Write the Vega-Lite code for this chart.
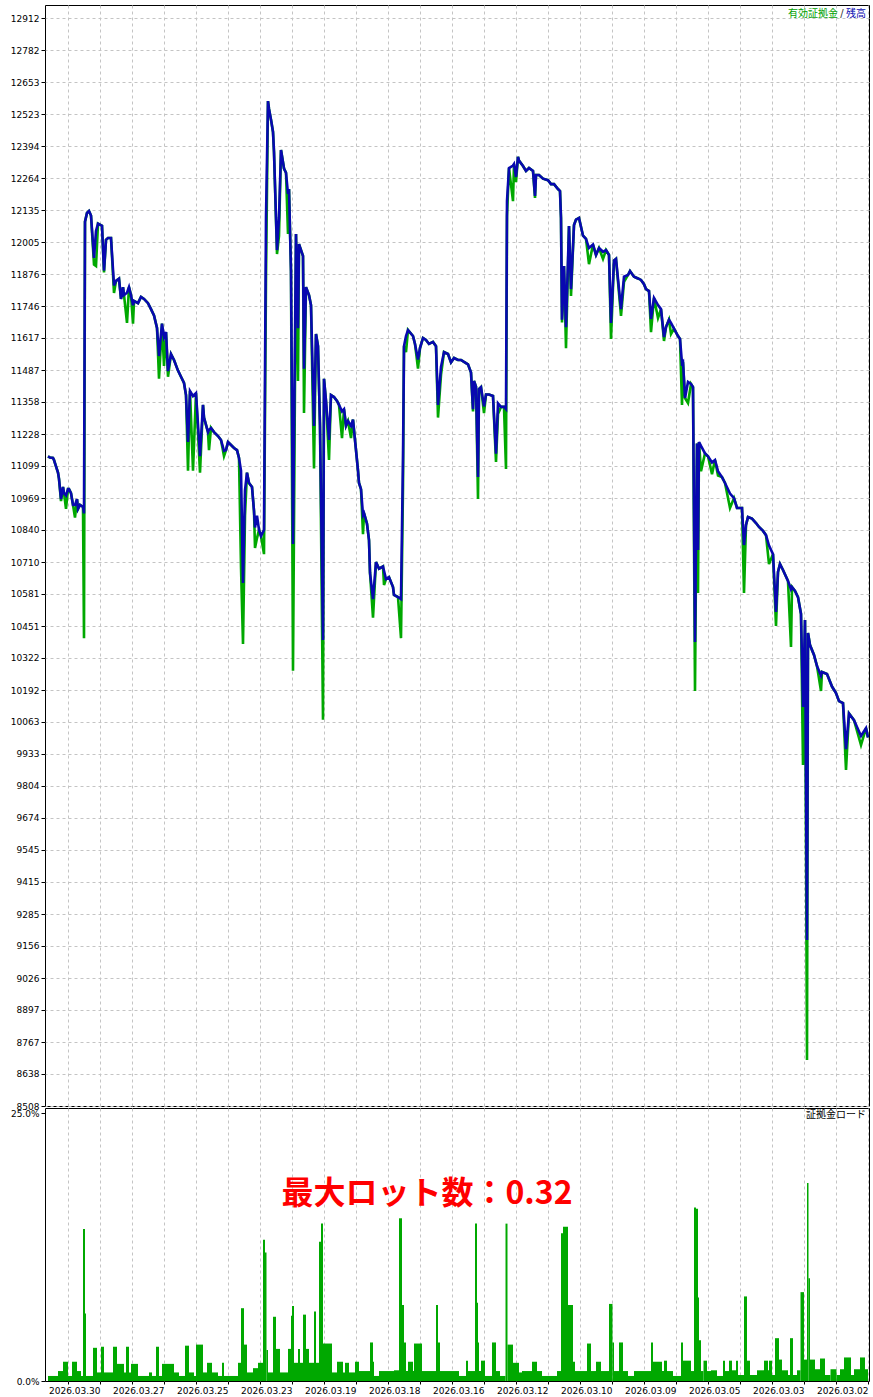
{
"$schema": "https://vega.github.io/schema/vega-lite/v6.json",
"padding": {"left": 4, "top": 4, "right": 5, "bottom": 0},
"background": "white",
"spacing": 2,
"bounds": "flush",
"config": {"view": {"stroke": "black", "strokeWidth": 1}, "font": "DejaVu Sans", "axis": {"labelFont": "DejaVu Sans", "labelColor": "black", "labelFontSize": 9, "title": null}},
"datasets": {
"eq": [
{"i":0,"b":10000,"e":10000},{"i":2,"b":10038,"e":10038},{"i":7,"b":10006,"e":9969},{"i":14,"b":10070,"e":10070},{"i":19,"b":10097,"e":10097},{"i":22,"b":9953,"e":9868},{"i":25,"b":10139,"e":10139},{"i":29,"b":10147,"e":10147},{"i":32,"b":10180,"e":10180},{"i":36,"b":10206,"e":10206},{"i":41,"b":10257,"e":10257},{"i":46,"b":10265,"e":10265},{"i":47,"b":10250,"e":10188},{"i":51,"b":10289,"e":10289},{"i":54,"b":10334,"e":10334},{"i":58,"b":10374,"e":10374},{"i":60,"b":10423,"e":10423},{"i":61,"b":9180,"e":8694},{"i":63,"b":10475,"e":10475},{"i":65,"b":10123,"e":9888},{"i":67,"b":10500,"e":10500},{"i":70,"b":10568,"e":10568},{"i":73,"b":10593,"e":10593},{"i":76,"b":10609,"e":10609},{"i":77,"b":10600,"e":10366},{"i":80,"b":10633,"e":10633},{"i":85,"b":10678,"e":10678},{"i":88,"b":10702,"e":10702},{"i":90,"b":10670,"e":10670},{"i":92,"b":10508,"e":10451},{"i":95,"b":10742,"e":10742},{"i":99,"b":10777,"e":10702},{"i":102,"b":10819,"e":10819},{"i":105,"b":10836,"e":10836},{"i":109,"b":10852,"e":10852},{"i":112,"b":10868,"e":10868},{"i":116,"b":10886,"e":10886},{"i":120,"b":10892,"e":10892},{"i":122,"b":10860,"e":10860},{"i":124,"b":10779,"e":10585},{"i":126,"b":10929,"e":10929},{"i":131,"b":10929,"e":10929},{"i":134,"b":10969,"e":10969},{"i":138,"b":10987,"e":10929},{"i":143,"b":11030,"e":11030},{"i":146,"b":11054,"e":11054},{"i":150,"b":11078,"e":11060},{"i":153,"b":11123,"e":11123},{"i":156,"b":11113,"e":11066},{"i":160,"b":11138,"e":11138},{"i":163,"b":11150,"e":11150},{"i":167,"b":11180,"e":11078},{"i":169,"b":11196,"e":11196},{"i":170,"b":10759,"e":10585},{"i":171,"b":11190,"e":11190},{"i":173,"b":10386,"e":10188},{"i":175,"b":11418,"e":11418},{"i":177,"b":11431,"e":11431},{"i":180,"b":11439,"e":11354},{"i":183,"b":11374,"e":11374},{"i":185,"b":11520,"e":11520},{"i":186,"b":11515,"e":11346},{"i":188,"b":11613,"e":11613},{"i":190,"b":11625,"e":11625},{"i":194,"b":11655,"e":11655},{"i":197,"b":11678,"e":11633},{"i":199,"b":11691,"e":11691},{"i":202,"b":11661,"e":11661},{"i":204,"b":11621,"e":11605},{"i":207,"b":11734,"e":11734},{"i":210,"b":11750,"e":11698},{"i":214,"b":11779,"e":11779},{"i":217,"b":11694,"e":11641},{"i":219,"b":11807,"e":11807},{"i":222,"b":11815,"e":11815},{"i":224,"b":11835,"e":11835},{"i":227,"b":11852,"e":11852},{"i":230,"b":11858,"e":11858},{"i":234,"b":11865,"e":11865},{"i":238,"b":11888,"e":11888},{"i":240,"b":11872,"e":11872},{"i":244,"b":11865,"e":11844},{"i":247,"b":11734,"e":11706},{"i":252,"b":11937,"e":11937},{"i":254,"b":11930,"e":11930},{"i":257,"b":11678,"e":11613},{"i":259,"b":11953,"e":11953},{"i":262,"b":11973,"e":11973},{"i":265,"b":11966,"e":11937},{"i":269,"b":11981,"e":11981},{"i":272,"b":11953,"e":11953},{"i":275,"b":11995,"e":11995},{"i":279,"b":11981,"e":11916},{"i":282,"b":12018,"e":12018},{"i":285,"b":12031,"e":12031},{"i":289,"b":12103,"e":12103},{"i":292,"b":12096,"e":12096},{"i":294,"b":12074,"e":12074},{"i":297,"b":11815,"e":11787},{"i":299,"b":12070,"e":12070},{"i":302,"b":11661,"e":11576},{"i":304,"b":11908,"e":11908},{"i":306,"b":11691,"e":11680},{"i":307,"b":12103,"e":12103},{"i":308,"b":12212,"e":12212},{"i":310,"b":12220,"e":12220},{"i":314,"b":12240,"e":12240},{"i":317,"b":12240,"e":12240},{"i":320,"b":12256,"e":12256},{"i":325,"b":12262,"e":12262},{"i":329,"b":12277,"e":12277},{"i":332,"b":12277,"e":12277},{"i":333,"b":12192,"e":12184},{"i":335,"b":12293,"e":12293},{"i":339,"b":12305,"e":12305},{"i":342,"b":12293,"e":12293},{"i":345,"b":12313,"e":12313},{"i":349,"b":12335,"e":12335},{"i":350,"b":12350,"e":12350},{"i":352,"b":12269,"e":12248},{"i":354,"b":12321,"e":12321},{"i":355,"b":12315,"e":12171},{"i":359,"b":12305,"e":12305},{"i":361,"b":12171,"e":12111},{"i":362,"b":11329,"e":11087},{"i":364,"b":11338,"e":11338},{"i":367,"b":11338,"e":11338},{"i":370,"b":11352,"e":11309},{"i":372,"b":11149,"e":11115},{"i":375,"b":11382,"e":11382},{"i":379,"b":11388,"e":11388},{"i":382,"b":11388,"e":11388},{"i":384,"b":11340,"e":11313},{"i":387,"b":11418,"e":11418},{"i":389,"b":11410,"e":11410},{"i":390,"b":11054,"e":10965},{"i":392,"b":11420,"e":11420},{"i":394,"b":11443,"e":11443},{"i":395,"b":11329,"e":11320},{"i":397,"b":11477,"e":11477},{"i":400,"b":11510,"e":11510},{"i":404,"b":11520,"e":11520},{"i":407,"b":11528,"e":11528},{"i":410,"b":11528,"e":11528},{"i":414,"b":11536,"e":11536},{"i":417,"b":11518,"e":11518},{"i":420,"b":11552,"e":11552},{"i":424,"b":11560,"e":11560},{"i":427,"b":11500,"e":11468},{"i":430,"b":11346,"e":11295},{"i":432,"b":11584,"e":11584},{"i":435,"b":11601,"e":11601},{"i":439,"b":11593,"e":11593},{"i":442,"b":11609,"e":11609},{"i":445,"b":11617,"e":11617},{"i":448,"b":11576,"e":11576},{"i":450,"b":11530,"e":11493},{"i":453,"b":11593,"e":11593},{"i":455,"b":11625,"e":11625},{"i":460,"b":11649,"e":11649},{"i":462,"b":11625,"e":11560},{"i":464,"b":11584,"e":11584},{"i":465,"b":11131,"e":11014},{"i":467,"b":10560,"e":10402},{"i":470,"b":10568,"e":10568},{"i":474,"b":10577,"e":10577},{"i":475,"b":10609,"e":10609},{"i":479,"b":10649,"e":10649},{"i":482,"b":10641,"e":10641},{"i":484,"b":10675,"e":10617},{"i":485,"b":10692,"e":10692},{"i":489,"b":10683,"e":10683},{"i":492,"b":10710,"e":10710},{"i":495,"b":10560,"e":10485},{"i":498,"b":10667,"e":10667},{"i":499,"b":10799,"e":10799},{"i":501,"b":10865,"e":10865},{"i":504,"b":10908,"e":10908},{"i":505,"b":10900,"e":10823},{"i":507,"b":11005,"e":11005},{"i":509,"b":11030,"e":11030},{"i":510,"b":11080,"e":11080},{"i":512,"b":11163,"e":11163},{"i":514,"b":11244,"e":11244},{"i":515,"b":11287,"e":11287},{"i":517,"b":11261,"e":11212},{"i":520,"b":11281,"e":11281},{"i":522,"b":11262,"e":11262},{"i":524,"b":11329,"e":11329},{"i":526,"b":11320,"e":11212},{"i":529,"b":11346,"e":11346},{"i":531,"b":11362,"e":11362},{"i":534,"b":11378,"e":11378},{"i":537,"b":11386,"e":11386},{"i":539,"b":11204,"e":11123},{"i":542,"b":11362,"e":11362},{"i":544,"b":11452,"e":11452},{"i":545,"b":10394,"e":10072},{"i":548,"b":11262,"e":11262},{"i":550,"b":11584,"e":11584},{"i":552,"b":11633,"e":11633},{"i":554,"b":11261,"e":11089},{"i":557,"b":11750,"e":11750},{"i":559,"b":11791,"e":11791},{"i":562,"b":11823,"e":11823},{"i":564,"b":11493,"e":11313},{"i":565,"b":11949,"e":11949},{"i":569,"b":11997,"e":11997},{"i":570,"b":11657,"e":11443},{"i":572,"b":12038,"e":12038},{"i":575,"b":10783,"e":10270},{"i":577,"b":11888,"e":11888},{"i":579,"b":12220,"e":12220},{"i":580,"b":12200,"e":12038},{"i":582,"b":12286,"e":12286},{"i":584,"b":12303,"e":12303},{"i":585,"b":12329,"e":12329},{"i":587,"b":12378,"e":12378},{"i":589,"b":12105,"e":12030},{"i":591,"b":11973,"e":11957},{"i":594,"b":12370,"e":12370},{"i":595,"b":12451,"e":12451},{"i":597,"b":12501,"e":12501},{"i":599,"b":12544,"e":12544},{"i":600,"b":12576,"e":12576},{"i":602,"b":12107,"e":11864},{"i":604,"b":10840,"e":10742},{"i":607,"b":10815,"e":10815},{"i":609,"b":10840,"e":10840},{"i":611,"b":10898,"e":10807},{"i":613,"b":10850,"e":10767},{"i":614,"b":10917,"e":10917},{"i":616,"b":11014,"e":11014},{"i":619,"b":11030,"e":11030},{"i":621,"b":11072,"e":11072},{"i":623,"b":11000,"e":10898},{"i":625,"b":10625,"e":10378},{"i":627,"b":11080,"e":10690},{"i":629,"b":11131,"e":11131},{"i":631,"b":11163,"e":11163},{"i":634,"b":11172,"e":11172},{"i":638,"b":11188,"e":11188},{"i":640,"b":11196,"e":11196},{"i":642,"b":11163,"e":11163},{"i":644,"b":11160,"e":11139},{"i":647,"b":11204,"e":11204},{"i":650,"b":11220,"e":11220},{"i":654,"b":11236,"e":11236},{"i":657,"b":11253,"e":11253},{"i":659,"b":11245,"e":11163},{"i":660,"b":11236,"e":11236},{"i":664,"b":11295,"e":11295},{"i":665,"b":11346,"e":11346},{"i":668,"b":11139,"e":11072},{"i":672,"b":11394,"e":11394},{"i":675,"b":11382,"e":11080},{"i":678,"b":11402,"e":11402},{"i":680,"b":11196,"e":11080},{"i":682,"b":11386,"e":11386},{"i":684,"b":11435,"e":11435},{"i":687,"b":11460,"e":11460},{"i":690,"b":11485,"e":11485},{"i":694,"b":11528,"e":11528},{"i":697,"b":11552,"e":11552},{"i":700,"b":11483,"e":11460},{"i":702,"b":11641,"e":11641},{"i":704,"b":11620,"e":11504},{"i":706,"b":11675,"e":11675},{"i":709,"b":11544,"e":11452},{"i":711,"b":11658,"e":11658},{"i":714,"b":11708,"e":11708},{"i":717,"b":11734,"e":11734},{"i":720,"b":11758,"e":11758},{"i":724,"b":11775,"e":11775},{"i":727,"b":11783,"e":11783},{"i":730,"b":11758,"e":11758},{"i":734,"b":11767,"e":11767},{"i":735,"b":11750,"e":11675},{"i":737,"b":11790,"e":11790},{"i":739,"b":11823,"e":11823},{"i":741,"b":11800,"e":11678},{"i":744,"b":11791,"e":11791},{"i":745,"b":11823,"e":11823},{"i":747,"b":11775,"e":11775},{"i":749,"b":11857,"e":11857},{"i":752,"b":11848,"e":11848},{"i":754,"b":11830,"e":11799},{"i":757,"b":12022,"e":12022},{"i":760,"b":12022,"e":12022},{"i":762,"b":12014,"e":12014},{"i":764,"b":11890,"e":11882},{"i":766,"b":12071,"e":12071},{"i":770,"b":12080,"e":12080},{"i":772,"b":12050,"e":11908},{"i":774,"b":11941,"e":11914},{"i":777,"b":12113,"e":12113},{"i":779,"b":12131,"e":12131},{"i":781,"b":12123,"e":12123},{"i":783,"b":12088,"e":12088},{"i":784,"b":10907,"e":10402},{"i":785,"b":10933,"e":10933},{"i":788,"b":10941,"e":10941},{"i":790,"b":10925,"e":10925},{"i":791,"b":10965,"e":10965},{"i":793,"b":10941,"e":10890},{"i":795,"b":10941,"e":10941},{"i":797,"b":10989,"e":10989},{"i":799,"b":11006,"e":11006},{"i":800,"b":11006,"e":11006},{"i":802,"b":10980,"e":10925},{"i":804,"b":10989,"e":10989},{"i":805,"b":11014,"e":11014},{"i":807,"b":10965,"e":10957},{"i":809,"b":11047,"e":11047},{"i":810,"b":11072,"e":11072},{"i":812,"b":11097,"e":11097},{"i":814,"b":11123,"e":11123},{"i":815,"b":11131,"e":11131},{"i":818,"b":11133,"e":11133},{"i":820,"b":11138,"e":11138}
],
"ml": [
{"a":0,"b":3,"m":1.1},{"a":3,"b":8,"m":2.2},{"a":8,"b":14,"m":1.1},{"a":14,"b":17,"m":0.56},{"a":17,"b":24,"m":2.2},{"a":24,"b":28,"m":1.1},{"a":28,"b":31.5,"m":0.56},{"a":31.5,"b":37.5,"m":1.1},{"a":37.5,"b":43,"m":0.56},{"a":43,"b":48,"m":2.1},{"a":48,"b":53,"m":1.1},{"a":53,"b":58,"m":2.0},{"a":58,"b":59.5,"m":9.6},{"a":59.5,"b":61,"m":18.5},{"a":61,"b":64,"m":2.0},{"a":64,"b":67.5,"m":8.3},{"a":67.5,"b":71,"m":1.0},{"a":71,"b":75,"m":0.56},{"a":75,"b":78,"m":4.0},{"a":78,"b":80,"m":0.56},{"a":80,"b":86,"m":1.0},{"a":86,"b":89,"m":2.0},{"a":89,"b":93,"m":4.0},{"a":93,"b":96,"m":0.56},{"a":96,"b":99,"m":1.9},{"a":99,"b":100,"m":1.0},{"a":100,"b":104,"m":1.9},{"a":104,"b":111,"m":1.0},{"a":111,"b":118,"m":0.56},{"a":118,"b":121,"m":1.9},{"a":121,"b":124,"m":7.9},{"a":124,"b":130,"m":0.56},{"a":130,"b":132,"m":1.9},{"a":132,"b":136,"m":1.0},{"a":136,"b":139,"m":1.9},{"a":139,"b":143,"m":0.93},{"a":143,"b":145,"m":1.9},{"a":145,"b":151,"m":0.47},{"a":151,"b":157,"m":1.0},{"a":157,"b":161,"m":0.93},{"a":161,"b":164.5,"m":1.9},{"a":164.5,"b":167,"m":0.93},{"a":167,"b":169,"m":3.8},{"a":169,"b":170,"m":7.8},{"a":170,"b":172,"m":16.1},{"a":172,"b":174,"m":16.2},{"a":174,"b":177,"m":0.93},{"a":177,"b":185,"m":1.9},{"a":185,"b":187,"m":3.6},{"a":187,"b":195,"m":0.47},{"a":195,"b":201,"m":0.93},{"a":201,"b":204,"m":1.9},{"a":204,"b":206,"m":0.93},{"a":206,"b":215,"m":1.8},{"a":215,"b":217,"m":3.6},{"a":217,"b":234,"m":0.93},{"a":234,"b":240,"m":0.47},{"a":240,"b":245,"m":0.93},{"a":245,"b":249,"m":3.6},{"a":249,"b":254,"m":0.93},{"a":254,"b":255.5,"m":3.6},{"a":255.5,"b":259,"m":7.2},{"a":259,"b":267,"m":0.93},{"a":267,"b":272,"m":1.8},{"a":272,"b":277,"m":0.93},{"a":277,"b":281,"m":3.5},{"a":281,"b":293,"m":0.93},{"a":293,"b":295,"m":1.8},{"a":295,"b":300,"m":7.1},{"a":300,"b":305,"m":14.4},{"a":305,"b":307,"m":13.8},{"a":307,"b":311,"m":0.93},{"a":311,"b":326,"m":0.47},{"a":326,"b":331,"m":0.93},{"a":331,"b":336,"m":1.8},{"a":336,"b":346,"m":0.93},{"a":346,"b":349,"m":0.8},{"a":349,"b":355,"m":1.7},{"a":355,"b":360.5,"m":3.4},{"a":360.5,"b":362.5,"m":14.7},{"a":362.5,"b":368,"m":0.47},{"a":368,"b":372,"m":0.93},{"a":372,"b":376,"m":3.6},{"a":376,"b":383,"m":0.47},{"a":383,"b":387,"m":1.9},{"a":387,"b":389,"m":0.93},{"a":389,"b":390,"m":3.6},{"a":390,"b":391,"m":7.3},{"a":391,"b":393,"m":14.7},{"a":393,"b":400,"m":0.93},{"a":400,"b":402,"m":1.9},{"a":402,"b":409,"m":0.47},{"a":409,"b":428,"m":0.93},{"a":428,"b":430,"m":3.6},{"a":430,"b":432,"m":7.1},{"a":432,"b":446,"m":0.93},{"a":446,"b":454,"m":3.5},{"a":454,"b":455,"m":0.93},{"a":455,"b":460,"m":1.8},{"a":460,"b":462,"m":0.93},{"a":462,"b":464,"m":3.6},{"a":464,"b":466,"m":7.1},{"a":466,"b":469,"m":15.2},{"a":469,"b":474,"m":1.0},{"a":474,"b":489,"m":0.93},{"a":489,"b":494,"m":0.47},{"a":494,"b":495,"m":1.8},{"a":495,"b":498,"m":3.6},{"a":498,"b":509,"m":0.93},{"a":509,"b":513,"m":1.8},{"a":513,"b":519,"m":0.8},{"a":519,"b":523,"m":1.7},{"a":523,"b":525,"m":0.8},{"a":525,"b":531,"m":1.8},{"a":531,"b":536,"m":0.8},{"a":536,"b":545,"m":3.5},{"a":545,"b":547,"m":14.7},{"a":547,"b":549,"m":13.0},{"a":549,"b":552,"m":1.7},{"a":552,"b":554,"m":6.5},{"a":554,"b":559,"m":1.7},{"a":559,"b":562,"m":3.0},{"a":562,"b":565,"m":6.2},{"a":565,"b":568,"m":1.7},{"a":568,"b":570,"m":3.0},{"a":570,"b":574,"m":1.7},{"a":574,"b":576,"m":7.0},{"a":576,"b":577,"m":6.1},{"a":577,"b":580,"m":3.0},{"a":580,"b":588,"m":0.8},{"a":588,"b":592,"m":3.0},{"a":592,"b":595,"m":6.0},{"a":595,"b":600,"m":0.8},{"a":600,"b":601.5,"m":2.9},{"a":601.5,"b":603,"m":12.0},{"a":603,"b":605,"m":13.2},{"a":605,"b":610,"m":1.7},{"a":610,"b":615,"m":1.2},{"a":615,"b":621,"m":0.8},{"a":621,"b":624,"m":3.4},{"a":624,"b":627,"m":6.8},{"a":627,"b":630,"m":1.7},{"a":630,"b":644,"m":0.47},{"a":644,"b":646,"m":1.7},{"a":646,"b":650,"m":0.47},{"a":650,"b":656,"m":0.8},{"a":656,"b":661,"m":1.7},{"a":661,"b":665,"m":0.8},{"a":665,"b":672,"m":3.4},{"a":672,"b":674,"m":0.47},{"a":674,"b":679,"m":0.8},{"a":679,"b":683,"m":3.3},{"a":683,"b":689,"m":0.47},{"a":689,"b":694,"m":0.8},{"a":694,"b":706,"m":1.6},{"a":706,"b":709,"m":0.47},{"a":709,"b":712,"m":3.2},{"a":712,"b":716,"m":0.47},{"a":716,"b":719,"m":0.8},{"a":719,"b":730,"m":0.47},{"a":730,"b":737,"m":1.6},{"a":737,"b":739,"m":0.8},{"a":739,"b":742,"m":3.2},{"a":742,"b":744,"m":0.8},{"a":744,"b":751,"m":1.6},{"a":751,"b":755,"m":3.2},{"a":755,"b":764,"m":0.8},{"a":764,"b":767,"m":3.2},{"a":767,"b":771,"m":0.8},{"a":771,"b":775,"m":3.1},{"a":775,"b":782,"m":0.47},{"a":782,"b":783,"m":6.3},{"a":783,"b":785,"m":14.2},{"a":785,"b":787,"m":0.47},{"a":787,"b":791,"m":0.93},{"a":791,"b":796,"m":1.8},{"a":796,"b":800,"m":0.47},{"a":800,"b":805,"m":1.8},{"a":805,"b":810,"m":0.93},{"a":810,"b":820,"m":0.47}
]
},
"vconcat": [
{
"width": 824, "height": 1101,
"layer": [
{"data": {"name": "eq"}, "mark": {"type": "line", "color": "#00a800", "strokeWidth": 2.6, "clip": true},
 "encoding": {
  "x": {"field": "i", "type": "quantitative", "scale": {"domain": [-1, 823], "reverse": true, "nice": false, "zero": false},
   "axis": {"orient": "bottom", "values": [0,32,64,96,128,160,192,224,256,288,320,352,384,416,448,480,512,544,576,608,640,672,704,736,768,800], "tickCount": 1000, "labels": false, "ticks": false, "domain": false, "grid": true, "gridColor": "#c4c4c4", "gridDash": [3,3], "gridWidth": 1, "minExtent": 0, "maxExtent": 0}},
  "y": {"field": "e", "type": "quantitative", "scale": {"domain": [8508, 12965], "nice": false, "zero": false},
   "axis": {"values": [8508,8638,8767,8897,9026,9156,9285,9415,9545,9674,9804,9933,10063,10192,10322,10451,10581,10710,10840,10969,11099,11228,11358,11487,11617,11746,11876,12005,12135,12264,12394,12523,12653,12782,12912], "tickCount": 1000, "format": "d", "domain": false, "tickSize": 4, "tickColor": "black", "labelPadding": 2, "grid": true, "gridColor": "#c4c4c4", "gridDash": [3,3], "minExtent": 40, "maxExtent": 40, "labelOverlap": false, "labelBound": false, "labelFlush": false}}
 }},
{"data": {"name": "eq"}, "mark": {"type": "line", "color": "#0808b0", "strokeWidth": 2.6, "clip": true},
 "encoding": {"x": {"field": "i", "type": "quantitative"}, "y": {"field": "b", "type": "quantitative"}}},
{"data": {"values": [{}]}, "mark": {"type": "text", "align": "right", "baseline": "middle", "font": "Noto Sans CJK JP", "fontSize": 10, "color": "#0808b0"},
 "encoding": {"x": {"datum": 2, "type": "quantitative"}, "y": {"datum": 12928, "type": "quantitative"}, "text": {"value": "残高"}}},
{"data": {"values": [{}]}, "mark": {"type": "text", "align": "center", "baseline": "middle", "font": "DejaVu Sans", "fontSize": 10, "color": "#333333"},
 "encoding": {"x": {"datum": 26, "type": "quantitative"}, "y": {"datum": 12928, "type": "quantitative"}, "text": {"value": "/"}}},
{"data": {"values": [{}]}, "mark": {"type": "text", "align": "right", "baseline": "middle", "font": "Noto Sans CJK JP", "fontSize": 10, "color": "#00a000"},
 "encoding": {"x": {"datum": 30, "type": "quantitative"}, "y": {"datum": 12928, "type": "quantitative"}, "text": {"value": "有効証拠金"}}}
]
},
{
"width": 824, "height": 273,
"layer": [
{"data": {"name": "ml"}, "mark": {"type": "rect", "color": "#00a800", "strokeWidth": 0},
 "encoding": {
  "x": {"field": "a", "type": "quantitative", "scale": {"domain": [-1, 823], "reverse": true, "nice": false, "zero": false},
   "axis": {"orient": "bottom", "values": [0,32,64,96,128,160,192,224,256,288,320,352,384,416,448,480,512,544,576,608,640,672,704,736,768,800], "tickCount": 1000,
    "labelExpr": "datum.value % 64 == 0 ? ['2026.03.02','2026.03.03','2026.03.05','2026.03.09','2026.03.10','2026.03.12','2026.03.16','2026.03.18','2026.03.19','2026.03.23','2026.03.25','2026.03.27','2026.03.30'][datum.value / 64] : ''",
    "labelAlign": "right", "labelPadding": 2, "labelOverlap": false, "labelBound": false, "labelFlush": false, "tickSize": 3, "tickColor": "black", "domain": false, "grid": true, "gridColor": "#c4c4c4", "gridDash": [3,3]}},
  "x2": {"field": "b"},
  "y": {"field": "m", "type": "quantitative", "scale": {"domain": [0, 25.5], "nice": false, "zero": false},
   "axis": {"values": [0, 25], "labelExpr": "format(datum.value, '.1f') + '%'", "domain": false, "tickSize": 4, "tickColor": "black", "labelPadding": 2, "grid": false, "minExtent": 40, "maxExtent": 40, "labelOverlap": false, "labelBound": false, "labelFlush": false}},
  "y2": {"datum": 0}
 }},
{"data": {"values": [{}]}, "mark": {"type": "text", "align": "center", "baseline": "middle", "font": "Noto Sans CJK JP", "fontSize": 32, "fontWeight": "bold", "color": "#ff0000"},
 "encoding": {"x": {"datum": 441, "type": "quantitative"}, "y": {"datum": 17.5, "type": "quantitative"}, "text": {"value": "最大ロット数：0.32"}}},
{"data": {"values": [{}]}, "mark": {"type": "text", "align": "right", "baseline": "middle", "font": "Noto Sans CJK JP", "fontSize": 10, "color": "black"},
 "encoding": {"x": {"datum": 2, "type": "quantitative"}, "y": {"datum": 24.8, "type": "quantitative"}, "text": {"value": "証拠金ロード"}}}
]
}
]
}
